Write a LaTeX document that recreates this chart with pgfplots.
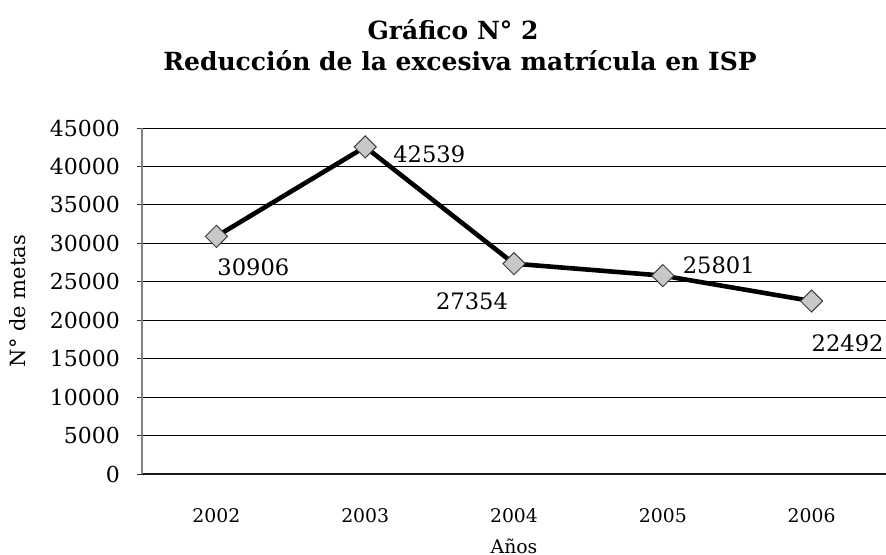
\documentclass[border=0pt]{standalone}
\usepackage{fontspec}
\setmainfont{DejaVu Serif}
\usepackage{pgfplots}
\pgfplotsset{compat=1.18}

\definecolor{markfill}{RGB}{200,200,200}
\definecolor{axisgray}{RGB}{130,130,130}

\begin{document}
\begin{tikzpicture}
\useasboundingbox (-71pt,-40.5pt) rectangle (372pt,237pt);
\begin{axis}[
    at={(0,0)}, anchor=south west,
    scale only axis,
    width=372pt, height=173pt,
    xmin=-0.5, xmax=4.5,
    ymin=0, ymax=45000,
    clip=false,
    axis lines*=left,
    x axis line style={black!90, line width=0.7pt},
    y axis line style={axisgray, line width=0.6pt},
    xtick={0,1,2,3,4},
    xticklabels={2002,2003,2004,2005,2006},
    xtick style={draw=none},
    minor xtick={-0.5,0.5,1.5,2.5,3.5,4.5},
    minor tick style={black!70, line width=0.6pt},
    minor tick length=4pt,
    ytick={0,5000,...,45000},
    ytick style={black!80, line width=0.5pt},
    major tick length=2.5pt,
    tick align=outside,
    ymajorgrids,
    major grid style={black, line width=0.5pt},
    scaled y ticks=false,
    /pgf/number format/1000 sep={},
    /pgf/number format/assume math mode=true,
    yticklabel style={font=\fontsize{11}{13}\selectfont, xshift=-5pt},
    xticklabel style={font=\fontsize{9.4}{11}\selectfont, yshift=-11pt},
]
\addplot[black, line width=2.3pt, mark=square*, mark size=3.9pt,
    mark options={rotate=45, fill=markfill, draw=black!75, line width=0.5pt}]
    coordinates {(0,30906) (1,42539) (2,27354) (3,25801) (4,22492)};

\begin{scope}[font=\fontsize{11.3}{13}\selectfont]
\node[xshift=18.5pt, yshift=-15.5pt] at (axis cs:0,30906) {30906};
\node[xshift=32pt, yshift=-3.5pt] at (axis cs:1,42539) {42539};
\node[xshift=-21pt, yshift=-19pt] at (axis cs:2,27354) {27354};
\node[xshift=28pt, yshift=5pt] at (axis cs:3,25801) {25801};
\node[xshift=18pt, yshift=-21pt] at (axis cs:4,22492) {22492};
\end{scope}
\end{axis}

\node[font=\fontsize{9.4}{11}\selectfont] at (186pt,-36pt) {Años};
\node[rotate=90, font=\fontsize{10.5}{12}\selectfont] at (-62pt,86.5pt) {N° de metas};
\node[font=\bfseries\fontsize{12.5}{14}\selectfont] at (155.5pt,222pt) {Gráfico N° 2};
\node[font=\bfseries\fontsize{12.5}{14}\selectfont] at (159pt,206.5pt) {Reducción de la excesiva matrícula en ISP};
\end{tikzpicture}
\end{document}
